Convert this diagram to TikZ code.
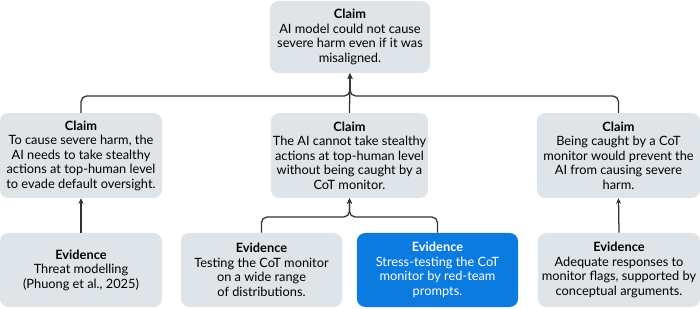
\documentclass[tikz,border=0pt]{standalone}
\usepackage{fontspec}
\setmainfont{Lato}
\usetikzlibrary{arrows.meta, positioning, calc}
\definecolor{boxgray}{HTML}{DEE4E7}
\definecolor{boxblue}{HTML}{0B7BE0}
\definecolor{linkgray}{HTML}{2E3336}

\begin{document}
\begin{tikzpicture}[
  x=0.025cm, y=-0.025cm,
  >={Stealth[length=4pt, width=3.6pt]},
  card/.style={
    fill=boxgray, rounded corners=6pt, align=center,
    inner sep=0pt, font=\fontsize{9.1}{10.3}\selectfont, text=black
  },
  claimcard/.style={card, minimum height=2.12cm},
  evcard/.style={card, minimum height=1.85cm},
  hicard/.style={evcard, fill=boxblue, text=white},
  link/.style={->, line width=0.9pt, linkgray, rounded corners=4pt},
]
\useasboundingbox (0,0) rectangle (700,309);

% Top claim
\node[card, minimum width=4cm, minimum height=1.8cm] (top) at (350, 37)
  {\textbf{Claim}\\AI model could not cause\\severe harm even if it was\\misaligned.};

% Sub-claims
\node[claimcard, minimum width=4.05cm] (stealth) at (81, 155.5)
  {\textbf{Claim}\\To cause severe harm, the\\AI needs to take stealthy\\actions at top-human level\\to evade default oversight.};
\node[claimcard, minimum width=3.93cm] (cannot) at (349.5, 155.5)
  {\textbf{Claim}\\The AI cannot take stealthy\\actions at top-human level\\without being caught by a\\CoT monitor.};
\node[claimcard, minimum width=4.08cm] (caught) at (618.5, 155.5)
  {\textbf{Claim}\\Being caught by a CoT\\monitor would prevent the\\AI from causing severe\\harm.};

% Evidence
\node[evcard, minimum width=4.05cm] (threat) at (81, 270)
  {\textbf{Evidence}\\Threat modelling\\(Phuong et al., 2025)};
\node[evcard, minimum width=4.03cm] (testing) at (261.5, 270)
  {\textbf{Evidence}\\Testing the CoT monitor\\on a wide range\\of distributions.};
\node[hicard, minimum width=4.03cm] (stress) at (437.5, 270)
  {\textbf{Evidence}\\Stress-testing the CoT\\monitor by red-team\\prompts.};
\node[evcard, minimum width=4.05cm] (flags) at (619, 270)
  {\textbf{Evidence}\\Adequate responses to\\monitor flags, supported by\\conceptual arguments.};

% Junctions
\coordinate (jtop) at (350, 96);
\coordinate (jmid) at (349.5, 217);

% Links
\draw[link] (stealth.north) |- (jtop) -- (top.south);
\draw[link] (caught.north) |- (jtop) -- (top.south);
\draw[link] (cannot.north) -- (top.south);
\draw[link] (threat.north) -- (stealth.south);
\draw[link] (testing.north) |- (jmid) -- (cannot.south);
\draw[link] (stress.north) |- (jmid) -- (cannot.south);
\draw[link] (flags.north) -- (caught.south);

\end{tikzpicture}
\end{document}
